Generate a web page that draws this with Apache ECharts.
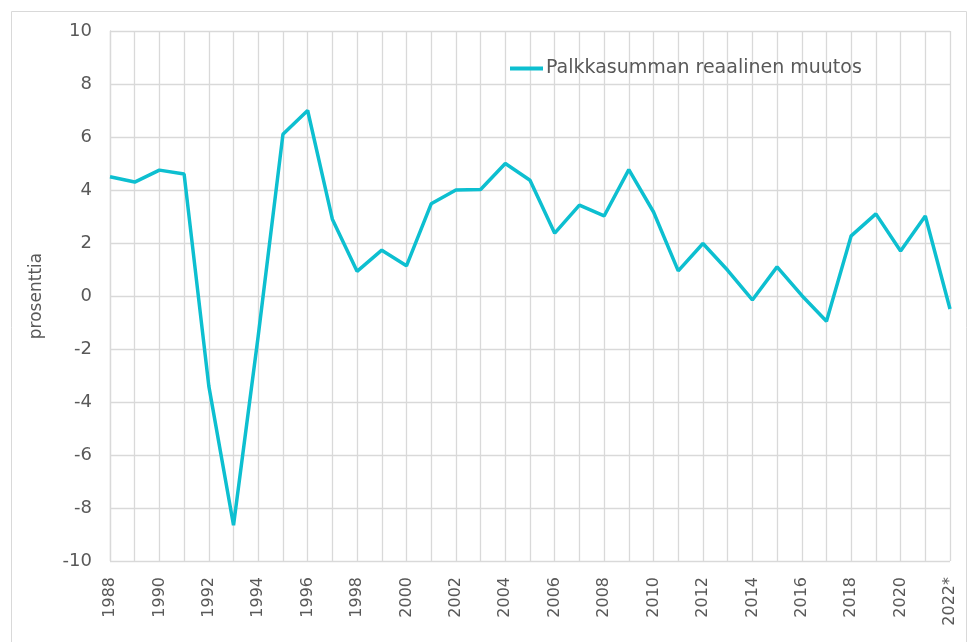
<!DOCTYPE html>
<html>
<head>
<meta charset="utf-8">
<script src="https://cdn.jsdelivr.net/npm/echarts@6/dist/echarts.min.js"></script>
<style>
  html, body { margin: 0; padding: 0; background: #fff; }
  #main { width: 971px; height: 642px; }
</style>
</head>
<body>
<div id="main"></div>
<script>
// vuodet (2022 ennakkotieto)
var years = ['1988', '1989', '1990', '1991', '1992', '1993', '1994', '1995', '1996', '1997',
  '1998', '1999', '2000', '2001', '2002', '2003', '2004', '2005', '2006', '2007',
  '2008', '2009', '2010', '2011', '2012', '2013', '2014', '2015', '2016', '2017',
  '2018', '2019', '2020', '2021', '2022*'];

// palkkasumman reaalinen muutos, %
var muutos = [4.5, 4.3, 4.75, 4.6, -3.4, -8.65, -1.5, 6.1, 7.0, 2.9,
  0.93, 1.73, 1.14, 3.48, 4.0, 4.02, 5.0, 4.37, 2.37, 3.43,
  3.02, 4.77, 3.17, 0.95, 1.98, 0.97, -0.15, 1.1, 0.02, -0.95,
  2.27, 3.1, 1.7, 3.02, -0.49];

var seriesName = 'Palkkasumman reaalinen muutos';
var yMin = -10, yMax = 10, yStep = 2;

var chart = echarts.init(document.getElementById('main'));
var font = '"DejaVu Sans", Verdana, sans-serif';
var textColor = '#595959';
var gridColor = '#d9d9d9';
var lineColor = '#0dbfd0';

var option = {
  animation: false,
  textStyle: { fontFamily: font },
  graphic: [{
    type: 'rect',
    shape: { x: 11.5, y: 11.5, width: 955, height: 640 },
    style: { fill: 'none', stroke: gridColor, lineWidth: 1 },
    silent: true
  }],
  legend: {
    left: 505,
    top: 54,
    icon: 'rect',
    itemWidth: 33,
    itemHeight: 4,
    itemGap: 0,
    textStyle: { color: textColor, fontSize: 19, fontFamily: font, padding: [0, 0, 0, -2] },
    data: [{ name: seriesName, itemStyle: { color: lineColor } }]
  },
  grid: { left: 110, right: 21, top: 31, bottom: 81, containLabel: false },
  xAxis: {
    type: 'category',
    data: years,
    boundaryGap: false,
    axisLine: { show: false },
    axisTick: { show: false },
    axisLabel: {
      interval: 1,
      rotate: 90,
      margin: 16,
      color: textColor,
      fontSize: 16,
      fontFamily: font
    },
    splitLine: { show: true, interval: 0, lineStyle: { color: gridColor, width: 1.3 } }
  },
  yAxis: {
    type: 'value',
    min: yMin,
    max: yMax,
    interval: yStep,
    name: 'prosenttia',
    nameLocation: 'middle',
    nameGap: 65,
    nameTextStyle: { color: textColor, fontSize: 17, fontFamily: font },
    axisLine: { show: true, lineStyle: { color: gridColor, width: 1.3 } },
    axisTick: { show: false },
    axisLabel: { color: textColor, fontSize: 18, fontFamily: font, margin: 18 },
    splitLine: { show: true, lineStyle: { color: gridColor, width: 1.3 } }
  },
  series: [{
    name: seriesName,
    type: 'line',
    data: muutos,
    symbol: 'none',
    lineStyle: { color: lineColor, width: 3.5 },
    itemStyle: { color: lineColor }
  }]
};

chart.setOption(option);
</script>
</body>
</html>
